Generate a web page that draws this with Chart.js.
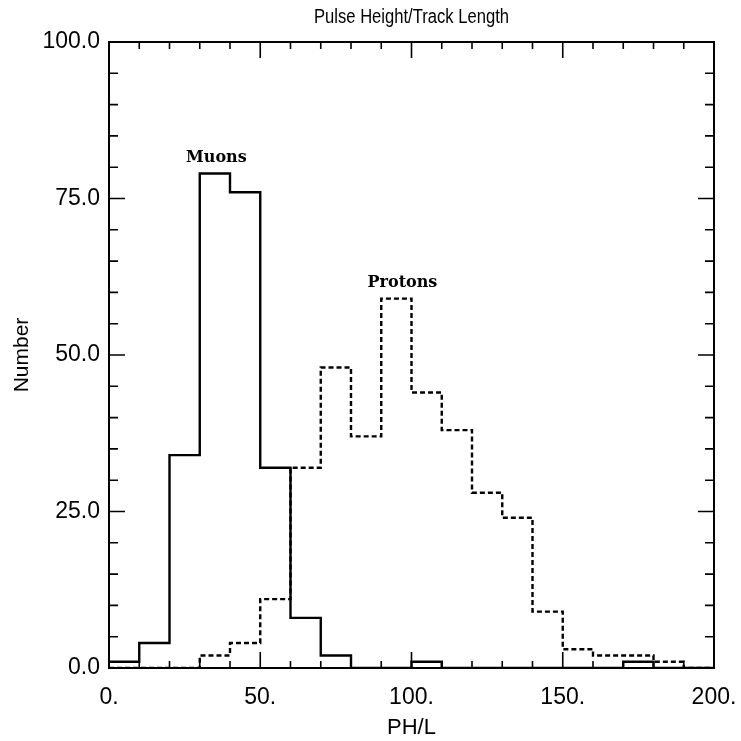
<!DOCTYPE html>
<html>
<head>
<meta charset="utf-8">
<script src="https://cdn.jsdelivr.net/npm/chart.js@4.4.0/dist/chart.umd.min.js"></script>
<style>
  html, body { margin: 0; padding: 0; background: #fff; }
  #wrap { width: 741px; height: 741px; }
</style>
</head>
<body>
<div id="wrap"><canvas id="c" width="741" height="741"></canvas></div>
<script>
// ---- data (bin width 10, bins start at these PH/L values) ----
const binStarts = [0,10,20,30,40,50,60,70,80,90,100,110,120,130,140,150,160,170,180,190];
const binWidth = 10;
const muons   = [1,4,34,79,76,32,8,2,0,0,1,0,0,0,0,0,0,1,0,0];
const protons = [0,0,0,2,4,11,32,48,37,59,44,38,28,24,9,3,2,2,1,0];
const xTicks = [0,50,100,150,200];
const yTicks = [0,25,50,75,100];
const chartTitle = 'Pulse Height/Track Length';
const xTitle = 'PH/L';
const yTitle = 'Number';
const seriesLabels = ['Muons', 'Protons'];

function stepPoints(vals) {
  const pts = binStarts.map((b, i) => ({ x: b, y: vals[i] }));
  pts.push({ x: binStarts[binStarts.length - 1] + binWidth, y: vals[vals.length - 1] });
  return pts;
}

const sansFont = "'Liberation Sans', Arial, sans-serif";

const framePlugin = {
  id: 'frame',
  afterDatasetsDraw(chart) {
    const { ctx, chartArea: a, scales: { x, y } } = chart;
    ctx.save();
    ctx.strokeStyle = '#000';
    ctx.lineWidth = 2;
    ctx.strokeRect(a.left, a.top, a.right - a.left, a.bottom - a.top);
    ctx.lineWidth = 1.6;
    ctx.beginPath();
    // x ticks every 10, major every 50 (bottom and top, pointing inward)
    for (let v = 0; v <= 200; v += 10) {
      const px = x.getPixelForValue(v);
      const len = (v % 50 === 0) ? 16 : 7;
      ctx.moveTo(px, a.bottom); ctx.lineTo(px, a.bottom - len);
      ctx.moveTo(px, a.top); ctx.lineTo(px, a.top + len);
    }
    // y ticks every 5, major every 25 (left and right, inward)
    for (let v = 0; v <= 100; v += 5) {
      const py = y.getPixelForValue(v);
      const len = (v % 25 === 0) ? 16 : 9;
      ctx.moveTo(a.left, py); ctx.lineTo(a.left + len, py);
      ctx.moveTo(a.right, py); ctx.lineTo(a.right - len, py);
    }
    ctx.stroke();

    // title (slightly condensed like the original plotter font)
    ctx.fillStyle = '#000';
    ctx.textAlign = 'center';
    ctx.textBaseline = 'middle';
    ctx.save();
    ctx.translate((a.left + a.right) / 2, 17);
    ctx.scale(0.83, 1);
    ctx.font = "20px " + sansFont;
    ctx.fillText(chartTitle, 0, 0);
    ctx.restore();

    // series annotations
    ctx.font = "bold 16px 'DejaVu Serif', 'Liberation Serif', serif";
    ctx.fillText(seriesLabels[0], x.getPixelForValue(35.5), y.getPixelForValue(81.5));
    ctx.fillText(seriesLabels[1], x.getPixelForValue(97), y.getPixelForValue(61.5));
    ctx.restore();
  }
};

new Chart(document.getElementById('c'), {
  type: 'line',
  data: {
    datasets: [
      {
        label: seriesLabels[0],
        data: stepPoints(muons),
        stepped: 'before',
        borderColor: '#000',
        borderWidth: 2.4,
        pointRadius: 0,
        fill: false
      },
      {
        label: seriesLabels[1],
        data: stepPoints(protons),
        stepped: 'before',
        borderColor: '#000',
        borderWidth: 2.4,
        borderDash: [5, 3],
        pointRadius: 0,
        fill: false
      }
    ]
  },
  options: {
    responsive: false,
    animation: false,
    devicePixelRatio: 1,
    layout: { padding: { left: 0, right: 27, top: 42, bottom: 0 } },
    plugins: {
      legend: { display: false },
      tooltip: { enabled: false },
      title: { display: false }
    },
    scales: {
      x: {
        type: 'linear',
        min: 0, max: 200,
        afterFit(s) { s.height = 73; s.paddingLeft = 0; s.paddingRight = 0; },
        afterBuildTicks(s) { s.ticks = xTicks.map(v => ({ value: v })); },
        grid: { display: false, drawTicks: false },
        border: { display: false },
        ticks: {
          color: '#000',
          font: { family: sansFont, size: 23 },
          padding: 16,
          maxRotation: 0,
          callback: v => v.toFixed(0) + '.'
        },
        title: {
          display: true, text: xTitle, color: '#000',
          font: { family: sansFont, size: 22 },
          padding: { top: 0, bottom: 0 }
        }
      },
      y: {
        type: 'linear',
        min: 0, max: 100,
        afterFit(s) { s.width = 109; s.paddingTop = 0; s.paddingBottom = 0; },
        afterBuildTicks(s) { s.ticks = yTicks.map(v => ({ value: v })); },
        grid: { display: false, drawTicks: false },
        border: { display: false },
        ticks: {
          color: '#000',
          font: { family: sansFont, size: 23 },
          padding: 9,
          callback: v => v.toFixed(1)
        },
        title: {
          display: true, text: yTitle, color: '#000',
          font: { family: sansFont, size: 21 },
          padding: { top: 10, bottom: 0 }
        }
      }
    }
  },
  plugins: [framePlugin]
});
</script>
</body>
</html>
